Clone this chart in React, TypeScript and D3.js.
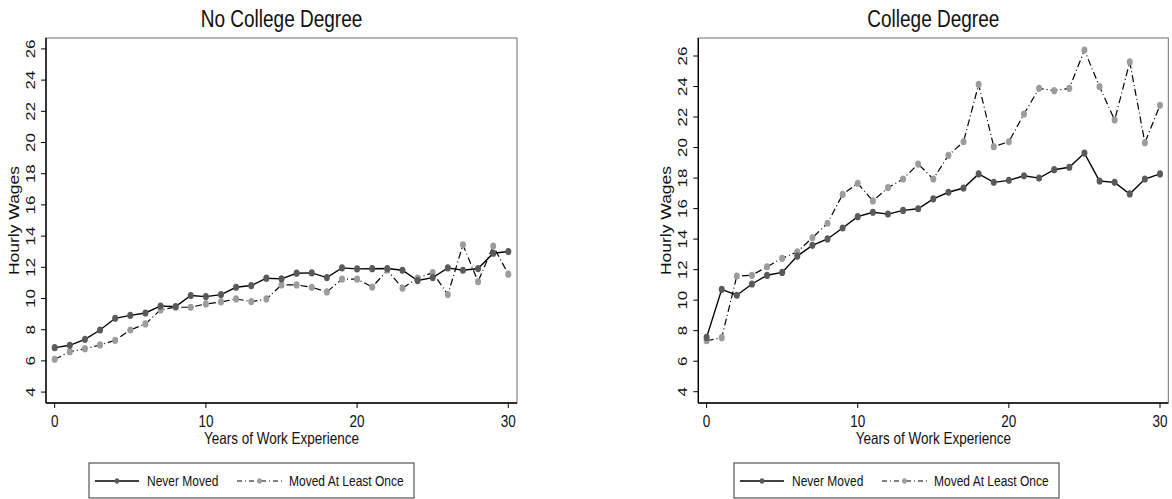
import React from "react";
import * as d3 from "d3";

const years = d3.range(0, 31);

const noCollegeNever = [6.85, 7.0, 7.38, 7.98, 8.73, 8.92, 9.07, 9.52, 9.48, 10.19, 10.12, 10.25, 10.72, 10.83, 11.3, 11.26, 11.62, 11.64, 11.34, 11.96, 11.9, 11.91, 11.92, 11.81, 11.15, 11.34, 11.96, 11.81, 11.92, 12.9, 13.01];
const noCollegeMoved = [6.1, 6.59, 6.78, 7.02, 7.32, 7.98, 8.37, 9.27, 9.44, 9.44, 9.65, 9.78, 9.97, 9.8, 9.97, 10.87, 10.87, 10.72, 10.42, 11.24, 11.24, 10.73, 11.82, 10.66, 11.3, 11.66, 10.25, 13.44, 11.08, 13.36, 11.56];
const collegeNever = [7.56, 10.71, 10.32, 11.06, 11.63, 11.82, 12.89, 13.59, 14.01, 14.73, 15.47, 15.76, 15.64, 15.88, 15.99, 16.64, 17.07, 17.35, 18.27, 17.72, 17.85, 18.15, 18.0, 18.55, 18.71, 19.64, 17.81, 17.72, 16.96, 17.94, 18.27];
const collegeMoved = [7.34, 7.54, 11.58, 11.63, 12.19, 12.74, 13.17, 14.09, 15.04, 16.93, 17.66, 16.5, 17.37, 17.94, 18.92, 17.94, 19.49, 20.38, 24.14, 20.06, 20.38, 22.2, 23.88, 23.73, 23.88, 26.39, 23.99, 21.8, 25.61, 20.32, 22.77];

const yTicks = [4, 6, 8, 10, 12, 14, 16, 18, 20, 22, 24, 26];
const xTicks = [0, 10, 20, 30];
const seriesNames = ["Never Moved", "Moved At Least Once"];
const panelTitles = ["No College Degree", "College Degree"];

const SY = 1.25;
const FONT = "'Liberation Sans', Arial, Helvetica, sans-serif";
const DARK = "#5a5a5a";
const LIGHT = "#9c9c9c";
const DASH = "7 3 1 3";

type PanelProps = {
  title: string;
  never: number[];
  moved: number[];
  left: number;
  right: number;
  yDomain: [number, number];
  xDomain: [number, number];
  legendX: number;
};

function HText(props: { x: number; y: number; size: number; anchor?: string; children: React.ReactNode; fill?: string }) {
  const { x, y, size, anchor = "middle", children, fill = "#111" } = props;
  return (
    <text
      transform={`translate(${x},${y}) scale(1,${SY})`}
      fontSize={size}
      fontFamily={FONT}
      textAnchor={anchor}
      fill={fill}
    >
      {children}
    </text>
  );
}

function VText(props: { x: number; y: number; size: number; children: React.ReactNode }) {
  const { x, y, size, children } = props;
  return (
    <text
      transform={`translate(${x},${y}) rotate(-90) scale(${SY},1)`}
      fontSize={size}
      fontFamily={FONT}
      textAnchor="middle"
      fill="#111"
    >
      {children}
    </text>
  );
}

function Panel(p: PanelProps) {
  const top = 38;
  const bottom = 403;
  const x = d3.scaleLinear().domain(p.xDomain).range([p.left, p.right]);
  const y = d3.scaleLinear().domain(p.yDomain).range([bottom, top]);
  const line = d3
    .line<number>()
    .x((_, i) => x(years[i]))
    .y((d) => y(d));
  const cx = (p.left + p.right) / 2;
  const cy = (top + bottom) / 2;
  return (
    <g>
      <HText x={cx} y={27} size={19}>{p.title}</HText>
      <rect x={p.left} y={top} width={p.right - p.left} height={bottom - top} fill="none" stroke="#6e6e6e" strokeWidth={1} />
      <line x1={p.left} x2={p.left} y1={top} y2={bottom} stroke="#000" strokeWidth={1.4} />
      <line x1={p.left} x2={p.right} y1={bottom} y2={bottom} stroke="#000" strokeWidth={1.4} />
      {yTicks.map((t) => (
        <g key={"y" + t}>
          <line x1={p.left - 5} x2={p.left} y1={y(t)} y2={y(t)} stroke="#000" strokeWidth={1} />
          <VText x={p.left - 11} y={y(t)} size={13.5}>{t}</VText>
        </g>
      ))}
      {xTicks.map((t) => (
        <g key={"x" + t}>
          <line x1={x(t)} x2={x(t)} y1={bottom} y2={bottom + 5} stroke="#000" strokeWidth={1} />
          <HText x={x(t)} y={427} size={13.5}>{t}</HText>
        </g>
      ))}
      <VText x={p.left - 27} y={cy} size={14}>Hourly Wages</VText>
      <HText x={cx} y={444} size={13.5}>Years of Work Experience</HText>

      <path d={line(p.moved) || ""} fill="none" stroke="#000" strokeWidth={1.2} strokeDasharray={DASH} />
      <path d={line(p.never) || ""} fill="none" stroke="#000" strokeWidth={1.4} />
      {p.moved.map((d, i) => (
        <ellipse key={"m" + i} cx={x(years[i])} cy={y(d)} rx={3} ry={3.6} fill={LIGHT} />
      ))}
      {p.never.map((d, i) => (
        <ellipse key={"n" + i} cx={x(years[i])} cy={y(d)} rx={3} ry={3.6} fill={DARK} />
      ))}

      <g transform={`translate(${p.legendX},463)`}>
        <rect x={0} y={0} width={325} height={35} fill="#fff" stroke="#333" strokeWidth={1} />
        <line x1={6} x2={50} y1={18} y2={18} stroke="#000" strokeWidth={1.4} />
        <ellipse cx={28} cy={18} rx={2.3} ry={2.8} fill={DARK} />
        <HText x={58} y={23} size={12} anchor="start">{seriesNames[0]}</HText>
        <line x1={148} x2={193} y1={18} y2={18} stroke="#000" strokeWidth={1.2} strokeDasharray="5 3 1 3" />
        <ellipse cx={170.5} cy={18} rx={2.3} ry={2.8} fill={LIGHT} />
        <HText x={200} y={23} size={12} anchor="start">{seriesNames[1]}</HText>
      </g>
    </g>
  );
}

export default function App() {
  return (
    <svg
      width={1172}
      height={499}
      style={{ position: "absolute", left: 0, top: 0, background: "#fff" }}
    >
      <rect x={0} y={0} width={1172} height={499} fill="#fff" />
      <Panel
        title={panelTitles[0]}
        never={noCollegeNever}
        moved={noCollegeMoved}
        left={46}
        right={517}
        yDomain={[3.3, 26.7]}
        xDomain={[-0.575, 30.575]}
        legendX={89}
      />
      <Panel
        title={panelTitles[1]}
        never={collegeNever}
        moved={collegeMoved}
        left={698.3}
        right={1168.3}
        yDomain={[3.26, 27.18]}
        xDomain={[-0.55, 30.55]}
        legendX={734}
      />
    </svg>
  );
}
